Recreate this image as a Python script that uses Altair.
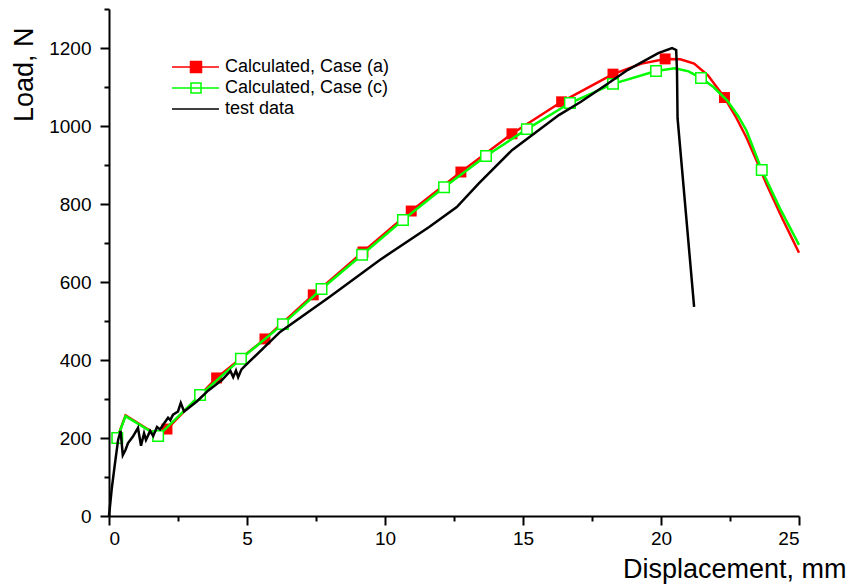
import altair as alt
import pandas as pd

FONT = "Liberation Sans"

# ---- Calculated, Case (a) (red, filled squares) ----
a_x = [0.3, 0.6, 1.8, 2.1, 3.9, 5.65, 7.4, 9.2, 10.95, 12.75, 14.6, 16.4, 18.26, 19.3, 20.15, 20.7, 21.2, 21.7, 22.3, 22.7, 23.1, 23.5, 23.84, 24.4, 25.0]
a_y = [200, 258, 205, 223, 354, 454, 567, 677, 782, 882, 980, 1062, 1133, 1160, 1172, 1171, 1160, 1130, 1073, 1025, 970, 905, 848, 762, 675]
a_mark = [1, 0, 0, 1, 1, 1, 1, 1, 1, 1, 1, 1, 1, 0, 1, 0, 0, 0, 1, 0, 0, 0, 0, 0, 0]

# ---- Calculated, Case (c) (green, hollow squares) ----
c_x = [0.3, 0.6, 1.78, 3.3, 4.78, 6.3, 7.7, 9.17, 10.65, 12.14, 13.66, 15.14, 16.7, 18.26, 19.82, 20.5, 21.0, 21.45, 21.9, 22.4, 22.8, 23.1, 23.65, 24.3, 25.0]
c_y = [200, 256, 205, 310, 403, 492, 582, 670, 759, 843, 923, 992, 1059, 1108, 1141, 1148, 1140, 1123, 1100, 1065, 1025, 988, 887, 790, 695]
c_mark = [1, 0, 1, 1, 1, 1, 1, 1, 1, 1, 1, 1, 1, 1, 1, 0, 0, 1, 0, 0, 0, 0, 1, 0, 0]

# ---- test data (black) ----
t_x = [0, 0.1, 0.2, 0.33, 0.42, 0.5, 0.6, 0.69, 0.86, 1.05, 1.16, 1.27, 1.34, 1.49, 1.6, 1.74, 1.85,
       2.0, 2.14, 2.22, 2.32, 2.5, 2.6, 2.72, 2.85, 3.2, 3.6, 4.1, 4.4, 4.5, 4.6, 4.68, 4.8, 5.0,
       6.2, 8.0, 9.8, 11.6, 12.6, 13.4, 14.6, 16.3, 17.1, 18.0, 18.8, 19.9, 20.4, 20.55, 20.58, 20.6, 21.2]
t_y = [0, 70, 126, 195, 218, 156, 170, 187, 203, 226, 180, 212, 195, 218, 205, 228, 222,
       238, 252, 246, 260, 268, 290, 268, 275, 295, 322, 349, 372, 356, 373, 356, 376, 390,
       472, 562, 656, 741, 792, 853, 938, 1028, 1062, 1105, 1144, 1187, 1200, 1195, 1140, 1020, 536]

series_names = ["Calculated, Case (a)", "Calculated, Case (c)", "test data"]
series_colors = ["#ff0000", "#00ff00", "#000000"]
series_fills = ["#ff0000", "#ffffff", "transparent"]

x_major = [0, 5, 10, 15, 20, 25]
x_minor = [2.5, 7.5, 12.5, 17.5, 22.5]
y_major = [0, 200, 400, 600, 800, 1000, 1200]
y_minor = [100, 300, 500, 700, 900, 1100, 1300]

df_a = pd.DataFrame({"x": a_x, "y": a_y, "m": a_mark, "i": range(len(a_x))})
df_c = pd.DataFrame({"x": c_x, "y": c_y, "m": c_mark, "i": range(len(c_x))})
df_t = pd.DataFrame({"x": t_x, "y": t_y, "i": range(len(t_x))})
df_leg = pd.DataFrame({"s": series_names, "x": [a_x[0], c_x[0], t_x[0]], "y": [a_y[0], c_y[0], t_y[0]]})

xs = alt.Scale(domain=[0, 25], nice=False, zero=False)
ys = alt.Scale(domain=[0, 1300], nice=False, zero=False)

common_axis = dict(domainColor="black", domainWidth=2, tickColor="black", tickWidth=2,
                   labelFont=FONT, labelFontSize=19, labelColor="black", grid=False)

x_axis_major = alt.Axis(values=x_major, format="d", tickSize=9, labelPadding=4, orient="bottom",
                        title="Displacement, mm", titleFont=FONT, titleFontSize=27, titleFontWeight="normal",
                        titleColor="black", titleAnchor="end", titleAlign="right", titleBaseline="alphabetic",
                        titleX=737, titleY=61, **common_axis)
y_axis_major = alt.Axis(values=y_major, format="d", tickSize=9, labelPadding=9, orient="left",
                        title="Load, N", titleFont=FONT, titleFontSize=27, titleFontWeight="normal",
                        titleColor="black", titleAngle=270, titleAlign="right", titleBaseline="middle",
                        titleX=-85, titleY=18, **common_axis)
x_axis_minor = alt.Axis(values=x_minor, tickSize=5, labels=False, domain=False, orient="bottom",
                        title=None, tickColor="black", tickWidth=2, grid=False)
y_axis_minor = alt.Axis(values=y_minor, tickSize=5, labels=False, domain=False, orient="left",
                        title=None, tickColor="black", tickWidth=2, grid=False)

red_line = alt.Chart(df_a).mark_line(color="#ff0000", strokeWidth=2.5).encode(
    x=alt.X("x:Q", scale=xs, axis=x_axis_major),
    y=alt.Y("y:Q", scale=ys, axis=y_axis_major),
    order="i:Q",
)
red_pts = alt.Chart(df_a).transform_filter("datum.m == 1").mark_point(
    shape="square", filled=True, color="#ff0000", size=120, opacity=1
).encode(x=alt.X("x:Q", scale=xs, axis=None), y=alt.Y("y:Q", scale=ys, axis=None))

green_line = alt.Chart(df_c).mark_line(color="#00ff00", strokeWidth=2.5).encode(
    x=alt.X("x:Q", scale=xs, axis=x_axis_minor),
    y=alt.Y("y:Q", scale=ys, axis=y_axis_minor),
    order="i:Q",
)
green_pts = alt.Chart(df_c).transform_filter("datum.m == 1").mark_point(
    shape="square", filled=False, fill="#ffffff", stroke="#00ff00", strokeWidth=1.5, size=110, opacity=1
).encode(x=alt.X("x:Q", scale=xs, axis=None), y=alt.Y("y:Q", scale=ys, axis=None))

black_line = alt.Chart(df_t).mark_line(color="#000000", strokeWidth=2.5).encode(
    x=alt.X("x:Q", scale=xs, axis=None),
    y=alt.Y("y:Q", scale=ys, axis=None),
    order="i:Q",
)

path_a = "M-2.4,0H2.3M-0.55,-0.55H0.55V0.55H-0.55Z"
path_c = "M-2.4,0H2.3M-0.5,-0.5H0.5V0.5H-0.5Z"
path_t = "M-2.4,0H2.3"

leg = alt.Legend(title=None, orient="none", legendX=76, legendY=47, padding=0,
                 symbolSize=400, labelOffset=18, rowPadding=1,
                 labelFont=FONT, labelFontSize=18, labelColor="black", labelLimit=400)

legend_layer = alt.Chart(df_leg).transform_filter("false").mark_point(filled=True, strokeWidth=2.5, opacity=1).encode(
    x=alt.X("x:Q", scale=xs, axis=None),
    y=alt.Y("y:Q", scale=ys, axis=None),
    stroke=alt.Stroke("s:N", scale=alt.Scale(domain=series_names, range=series_colors), legend=leg),
    fill=alt.Fill("s:N", scale=alt.Scale(domain=series_names, range=series_fills), legend=leg),
    shape=alt.Shape("s:N", scale=alt.Scale(domain=series_names, range=[path_a, path_c, path_t]), legend=leg),
)

chart = alt.layer(
    red_line, red_pts, green_line, green_pts, black_line, legend_layer
).resolve_axis(x="independent", y="independent").properties(
    width=690, height=507,
    padding={"left": 109, "top": 9, "right": 51, "bottom": 72},
    autosize=alt.AutoSizeParams(type="none"),
    background="white",
).configure_view(stroke=None)

chart.save("out.html", embed_options={"renderer": "svg", "actions": False})
